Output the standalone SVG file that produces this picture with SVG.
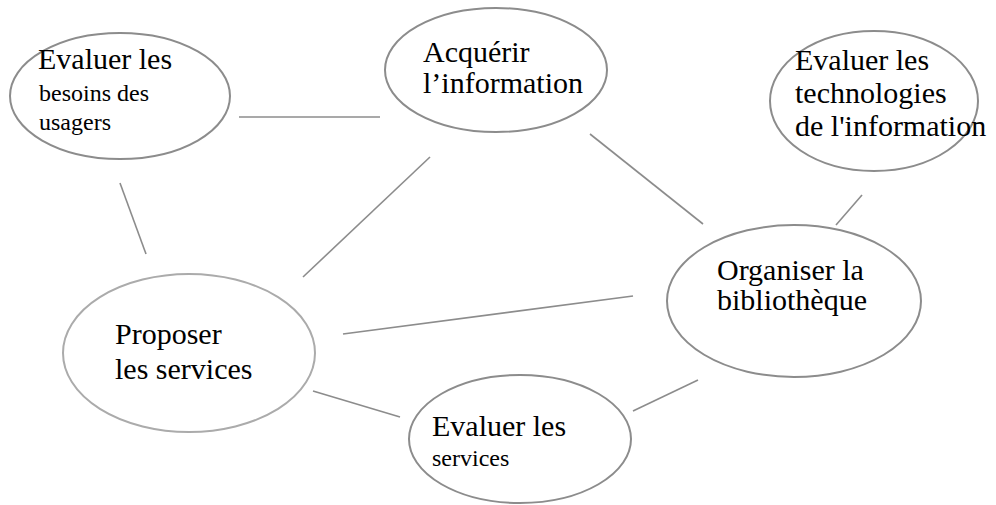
<svg xmlns="http://www.w3.org/2000/svg" width="996" height="505" viewBox="0 0 996 505">
<style>
.n{fill:#fff;stroke:#8c8c8c;stroke-width:2}
.n2{fill:#fff;stroke:#ababab;stroke-width:2}
.c line{stroke:#8c8c8c;stroke-width:1.6}
.t{font-family:'Liberation Serif','Times New Roman',Tinos,'DejaVu Serif',serif;fill:#000}
.b{font-size:30px}
.s{font-size:24px}
</style>
<rect width="996" height="505" fill="#fff"/>
<g class="c" id="connectors">
<line x1="239" y1="117" x2="380" y2="117"/>
<line x1="120" y1="183" x2="146" y2="254"/>
<line x1="430" y1="157" x2="303" y2="277"/>
<line x1="590" y1="134" x2="703" y2="224"/>
<line x1="862" y1="195" x2="836" y2="225"/>
<line x1="343" y1="334" x2="633" y2="296"/>
<line x1="313" y1="391" x2="400" y2="417"/>
<line x1="633" y1="411" x2="698" y2="380"/>
</g>
<g id="besoins" class="t" font-family="Liberation Serif, serif">
<ellipse class="n" cx="120" cy="96" rx="110" ry="63"/>
<text class="b" x="38" y="69">Evaluer les</text>
<text class="s" x="39" y="101">besoins des</text>
<text class="s" x="39" y="130">usagers</text>
</g>
<g id="acquerir" class="t" font-family="Liberation Serif, serif">
<ellipse class="n" cx="496" cy="70" rx="111" ry="62"/>
<text class="b" x="423" y="62">Acquérir</text>
<text class="b" x="423" y="93">l’information</text>
</g>
<g id="technologies" class="t" font-family="Liberation Serif, serif">
<ellipse class="n" cx="874" cy="101" rx="104" ry="70"/>
<text class="b" x="795" y="70">Evaluer les</text>
<text class="b" x="795" y="103">technologies</text>
<text class="b" x="795" y="136">de l'information</text>
</g>
<g id="proposer" class="t" font-family="Liberation Serif, serif">
<ellipse class="n2" cx="189" cy="353" rx="126" ry="79"/>
<text class="b" x="115" y="344">Proposer</text>
<text class="b" x="115" y="379">les services</text>
</g>
<g id="evaluer-services" class="t" font-family="Liberation Serif, serif">
<ellipse class="n" cx="520" cy="439" rx="111" ry="64"/>
<text class="b" x="432" y="436">Evaluer les</text>
<text class="s" x="432" y="466">services</text>
</g>
<g id="organiser" class="t" font-family="Liberation Serif, serif">
<ellipse class="n" cx="794" cy="301" rx="127" ry="76"/>
<text class="b" x="717" y="280">Organiser la</text>
<text class="b" x="717" y="310">bibliothèque</text>
</g>
</svg>
